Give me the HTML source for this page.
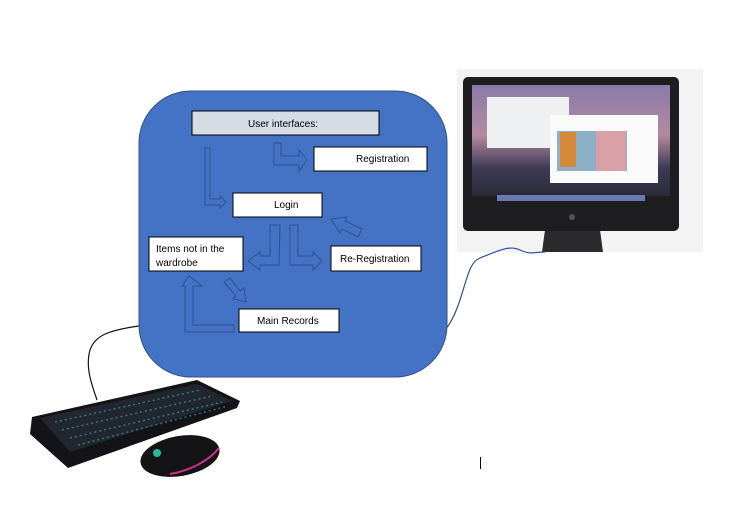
<!DOCTYPE html>
<html><head><meta charset="utf-8"><style>
html,body{margin:0;padding:0;background:#fff;}
svg{display:block;font-family:"Liberation Sans",sans-serif;}
</style></head><body>
<svg width="729" height="510" viewBox="0 0 729 510">
<defs>
<linearGradient id="scr" x1="0" y1="0" x2="0" y2="1">
<stop offset="0" stop-color="#8a7aa8"/><stop offset="0.45" stop-color="#b48aa0"/><stop offset="0.75" stop-color="#3e3a55"/><stop offset="1" stop-color="#2a2a38"/>
</linearGradient>
</defs>
<!-- monitor -->
<rect x="457" y="69" width="246" height="183" fill="#f3f3f3"/>
<path d="M545 230 L600 230 L603 252 L542 252 Z" fill="#2b2b2e"/>
<rect x="463" y="77" width="216" height="154" rx="5" fill="#1e1e20"/>
<rect x="472" y="85" width="198" height="111" fill="url(#scr)"/>
<rect x="487" y="97" width="82" height="51" fill="#eef0f2"/>
<rect x="550" y="115" width="108" height="68" fill="#fafafa"/>
<rect x="557" y="131" width="70" height="40" fill="#8bb0c8"/>
<rect x="596" y="131" width="30" height="40" fill="#d9a0a8"/>
<rect x="560" y="132" width="16" height="35" fill="#d48a3a"/>
<rect x="497" y="195" width="148" height="6" fill="#6a7ab0"/>
<circle cx="572" cy="217" r="3" fill="#555"/>
<path d="M419 341 C440 340 450 330 460 300 C468 275 470 262 480 258 C500 250 510 245 520 250 C530 255 535 252 545 252" fill="none" stroke="#2f4fa0" stroke-width="1.2"/>
<!-- keyboard/mouse cable -->
<path d="M139 326 C110 330 95 335 90 350 C85 368 92 385 97 400" fill="none" stroke="#111" stroke-width="1.2"/>
<!-- main blue panel -->
<rect x="139" y="91" width="308" height="286" rx="52" fill="#4472C4" stroke="#2F528F" stroke-width="1"/>
<!-- arrows -->
<g fill="none" stroke="#2F528F" stroke-width="1">
<path d="M205 148 L210 148 L210 199 L220 199 L220 196 L226 202 L220 208 L220 205 L205 205 Z"/>
<path d="M274 143 L281 143 L281 156 L299 156 L299 150 L307 160 L299 171 L299 165 L274 165 Z"/>
<path d="M280 225 L279 265 L260 265 L260 270 L248 261 L260 252 L260 256 L270 256 L270 225 Z"/>
<path d="M290 225 L298 225 L298 256 L313 256 L313 252 L322 261 L313 270 L313 265 L290 265 Z"/>
<path d="M362 229 L358 237 L342 229 L340 233 L331 219 L347 217 L345 221 Z"/>
<path d="M185 332 L234 332 L234 325 L193 325 L193 286 L202 286 L189 276 L182 286 L185 286 Z"/>
<path d="M224 282 L230 278 L240 291 L244 288 L246 302 L233 299 L236 296 Z"/>
</g>
<!-- boxes -->
<g stroke="#000" stroke-width="1">
<rect x="192" y="111" width="187" height="24" fill="#D6DCE5"/>
<rect x="314" y="147" width="113" height="24" fill="#fff"/>
<rect x="233" y="193" width="89" height="24" fill="#fff"/>
<rect x="149" y="237" width="94" height="34" fill="#fff"/>
<rect x="331" y="246" width="90" height="25" fill="#fff"/>
<rect x="239" y="309" width="100" height="23" fill="#fff"/>
</g>
<g font-size="10" fill="#000">
<text x="248" y="127">User interfaces:</text>
<text x="356" y="162">Registration</text>
<text x="274" y="208">Login</text>
<text x="156" y="252">Items not in the</text>
<text x="156" y="266">wardrobe</text>
<text x="340" y="262">Re-Registration</text>
<text x="257" y="324">Main Records</text>
</g>
<!-- keyboard -->
<path d="M32 417 L197 380 L240 401 L237 408 L68 468 L30 434 Z" fill="#141418"/>
<path d="M40 418 L197 384 L232 401 L70 452 Z" fill="#22262e"/>
<g stroke="#3ab0c0" stroke-width="1.5" stroke-dasharray="2 3" opacity="0.6">
<path d="M55 422 L200 390"/><path d="M62 430 L212 396"/><path d="M70 438 L222 402"/><path d="M78 445 L228 406"/>
</g>
<!-- mouse -->
<ellipse cx="180" cy="456" rx="40" ry="20" transform="rotate(-10 180 456)" fill="#141416"/>
<path d="M170 474 C188 471 208 462 219 448" fill="none" stroke="#d0308a" stroke-width="2"/>
<circle cx="157" cy="453" r="4" fill="#2ab89a"/>
<line x1="480.5" y1="457" x2="480.5" y2="469" stroke="#000" stroke-width="1"/>
</svg>
</body></html>
